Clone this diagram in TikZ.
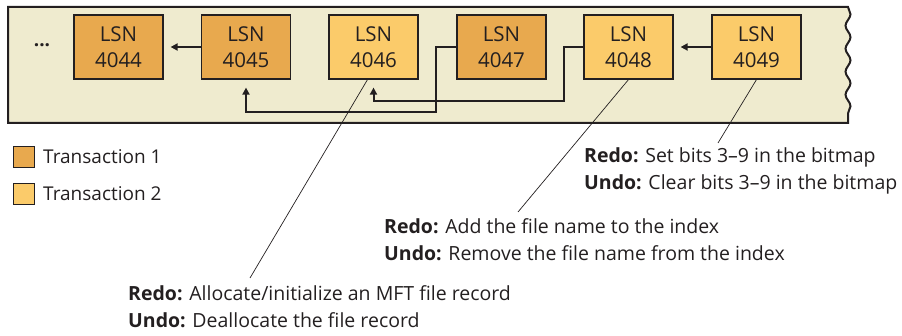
\documentclass[tikz,border=0pt]{standalone}
\usepackage{fontspec}
\setmainfont{Open Sans}
\usetikzlibrary{arrows.meta,decorations.pathmorphing}

\definecolor{bandfill}{HTML}{EFEBCF}
\definecolor{txone}{HTML}{E8A94E}
\definecolor{txtwo}{HTML}{FBCB6A}
\definecolor{ink}{HTML}{231F20}

\begin{document}
\begin{tikzpicture}[
  x=1pt, y=-1pt,
  >={Triangle[length=7pt,width=7pt]},
  every node/.style={font=\fontsize{19}{27}\selectfont, text=ink},
  record/.style={draw=ink, line width=1.2pt, minimum width=89pt, minimum height=64pt,
    align=center, font=\fontsize{20.5}{26}\selectfont},
  link/.style={draw=ink, line width=2pt, ->},
  leader/.style={draw=ink, line width=0.7pt},
  swatch/.style={draw=ink, line width=1.2pt, minimum size=21pt, inner sep=0pt},
  note/.style={align=left, anchor=west, inner sep=0pt, font=\fontsize{19.5}{27}\selectfont},
  torn/.style={decoration={snake, amplitude=2.5pt, segment length=23pt}}
]
  \useasboundingbox (0,0) rectangle (902,336);

  % log band with torn right edge
  \draw[ink, fill=bandfill, line width=2pt]
    (8,7) -- (848,7) decorate[torn] {-- (848,123)} -- (8,123) -- cycle;

  \node (dots) at (42,45) {\textbf{...}};

  \node[record, fill=txone] (l4044) at (118.5,47) {LSN\\4044};
  \node[record, fill=txone] (l4045) at (246,47) {LSN\\4045};
  \node[record, fill=txtwo] (l4046) at (373.5,47) {LSN\\4046};
  \node[record, fill=txone] (l4047) at (501.5,47) {LSN\\4047};
  \node[record, fill=txtwo] (l4048) at (628.5,47) {LSN\\4048};
  \node[record, fill=txtwo] (l4049) at (756.5,47) {LSN\\4049};

  \draw[link, shorten >=7pt] (l4045) -- (l4044);
  \draw[link, shorten >=7pt] (l4049) -- (l4048);
  \draw[link] (l4047.west) -- ++(-20,0) -- ++(0,65) -| ([yshift=-8pt]l4045.south);
  \draw[link] (l4048.west) -- ++(-19,0) -- ++(0,54) -| ([yshift=-8pt]l4046.south);

  % legend
  \node[swatch, fill=txone] (k1) at (24,157) {};
  \node[swatch, fill=txtwo] (k2) at (24,194) {};
  \node[anchor=west, inner sep=0pt] (k1t) at (43,157) {Transaction 1};
  \node[anchor=west, inner sep=0pt] (k2t) at (43,194) {Transaction 2};

  % annotations
  \node[note] (n4049) at (584,171) {\textbf{Redo:} Set bits 3--9 in the bitmap\\\textbf{Undo:} Clear bits 3--9 in the bitmap};
  \node[note] (n4048) at (384,240) {\textbf{Redo:} Add the file name to the index\\\textbf{Undo:} Remove the file name from the index};
  \node[note] (n4046) at (128,307) {\textbf{Redo:} Allocate/initialize an MFT file record\\\textbf{Undo:} Deallocate the file record};

  \coordinate (e4049) at (718,143);
  \coordinate (e4048) at (518,212);
  \coordinate (e4046) at (250,278);
  \draw[leader] (l4049.south) -- (e4049);
  \draw[leader] (l4048.south) -- (e4048);
  \draw[leader] ([xshift=-6pt]l4046.south) -- (e4046);
\end{tikzpicture}
\end{document}
